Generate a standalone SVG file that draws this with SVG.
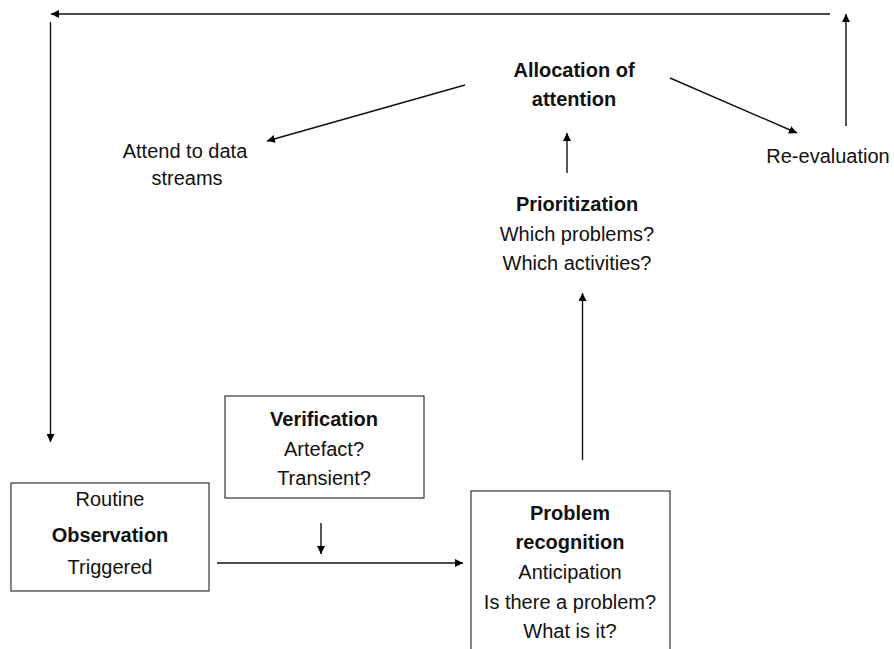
<svg xmlns="http://www.w3.org/2000/svg" width="894" height="649" viewBox="0 0 894 649">
<defs>
<marker id="ah" viewBox="0 0 10 10" refX="10" refY="5" markerWidth="8" markerHeight="8" markerUnits="userSpaceOnUse" orient="auto">
<path d="M0,0 L10,5 L0,10 z" fill="#000"/>
</marker>
</defs>
<style>
text{font-family:"Liberation Sans",Arial,sans-serif;font-size:20px;fill:#111;text-anchor:middle}
.b{font-weight:bold}
.box{fill:#fff;stroke:#333;stroke-width:1.2}
.c line,.c polyline{stroke:#111;stroke-width:1.4;fill:none}
.c .a{marker-end:url(#ah)}
</style>
<rect width="894" height="649" fill="#fff"/>
<g class="c" id="connectors">
<line class="a" x1="830" y1="14" x2="51" y2="14"/>
<line class="a" x1="50.5" y1="22" x2="50.5" y2="442"/>
<line class="a" x1="846" y1="126" x2="846" y2="14"/>
<line class="a" x1="465" y1="85" x2="267" y2="141"/>
<line class="a" x1="670" y1="78" x2="797" y2="133"/>
<line class="a" x1="567" y1="173" x2="567" y2="133"/>
<line class="a" x1="582.5" y1="460" x2="582.5" y2="293"/>
<line class="a" x1="217" y1="563" x2="463" y2="563"/>
<line class="a" x1="321" y1="523" x2="321" y2="554"/>
</g>
<g id="allocation">
<text class="b" x="574" y="77">Allocation of</text>
<text class="b" x="574" y="106">attention</text>
</g>
<g id="attend">
<text x="185" y="158">Attend to data</text>
<text x="187" y="185">streams</text>
</g>
<g id="reevaluation">
<text x="828" y="163">Re-evaluation</text>
</g>
<g id="prioritization">
<text class="b" x="577" y="211">Prioritization</text>
<text x="577" y="241">Which problems?</text>
<text x="577" y="270">Which activities?</text>
</g>
<g id="observation">
<rect class="box" x="11" y="483" width="198" height="108"/>
<text x="110" y="506">Routine</text>
<text class="b" x="110" y="542">Observation</text>
<text x="110" y="574">Triggered</text>
</g>
<g id="verification">
<rect class="box" x="225" y="396" width="199" height="102"/>
<text class="b" x="324" y="426">Verification</text>
<text x="324" y="456">Artefact?</text>
<text x="324" y="485">Transient?</text>
</g>
<g id="problem">
<rect class="box" x="471" y="491" width="199" height="170"/>
<text class="b" x="570" y="520">Problem</text>
<text class="b" x="570" y="549">recognition</text>
<text x="570" y="579">Anticipation</text>
<text x="570" y="609">Is there a problem?</text>
<text x="570" y="638">What is it?</text>
</g>
</svg>
